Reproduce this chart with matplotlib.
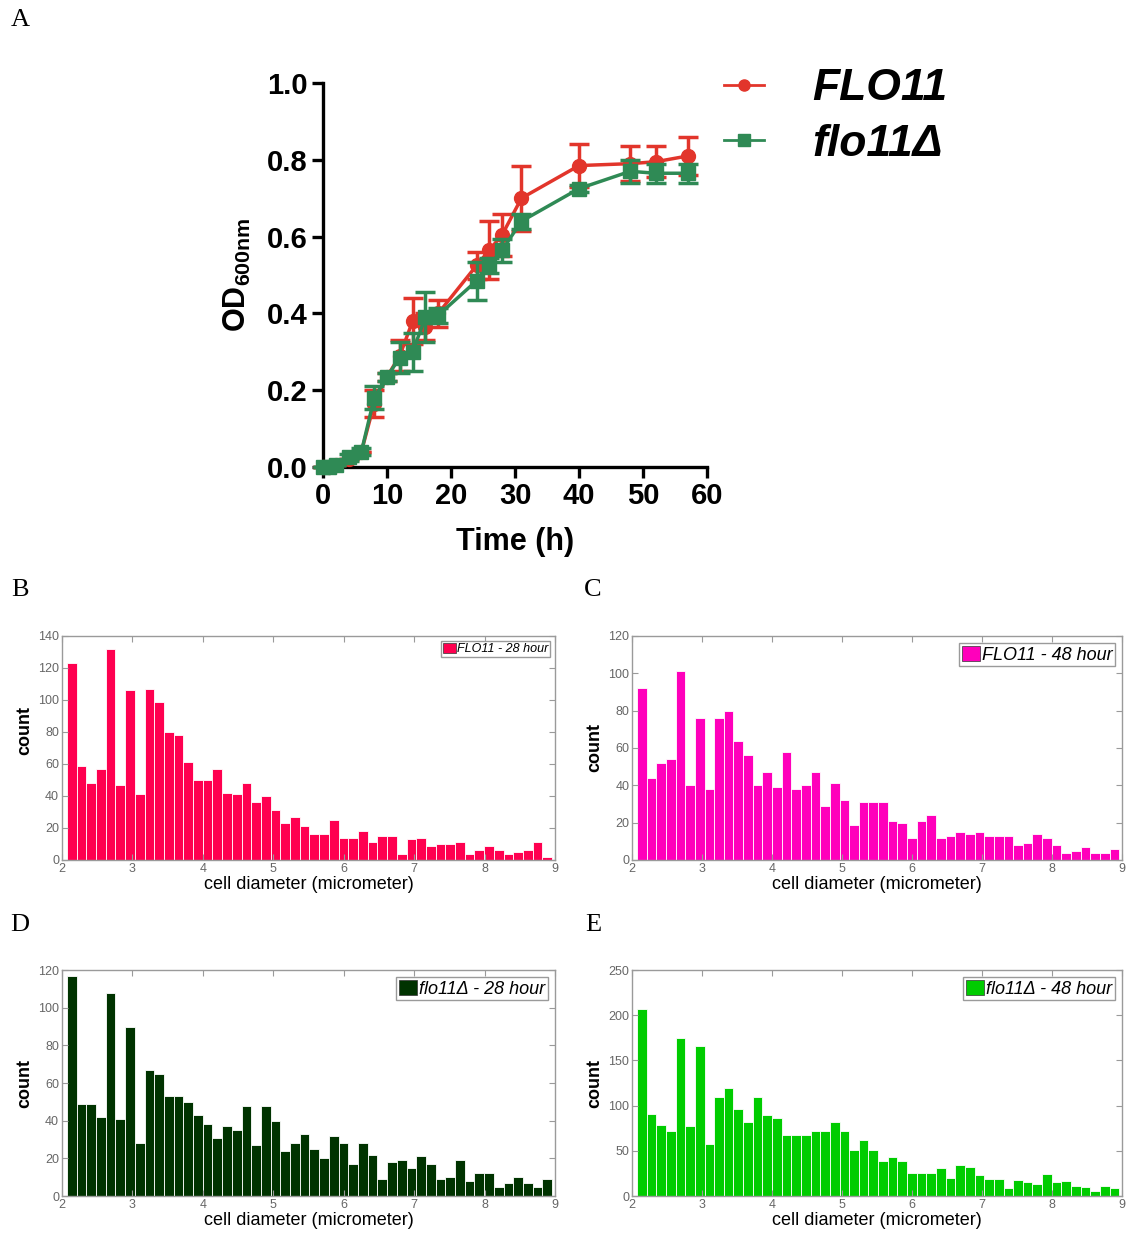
import numpy as np
import matplotlib
matplotlib.use("Agg")
import matplotlib.pyplot as plt
from matplotlib.lines import Line2D
from matplotlib.patches import Patch

plt.rcParams["font.family"] = ["Liberation Sans", "DejaVu Sans"]
plt.rcParams["mathtext.fontset"] = "custom"
plt.rcParams["mathtext.rm"] = "Liberation Sans:bold"

# Growth curve (panel A)
hours = [0, 1, 2, 4, 6, 8, 10, 12, 14, 16, 18, 24, 26, 28, 31, 40, 48, 52, 57]
od_wt = [0.0, 0.0, 0.005, 0.02, 0.04, 0.165, 0.235, 0.29, 0.38, 0.365, 0.40,
         0.525, 0.565, 0.605, 0.70, 0.785, 0.79, 0.795, 0.81]
od_wt_err = [0, 0, 0, 0, 0, 0.035, 0.01, 0.04, 0.06, 0.035, 0.035, 0.035,
             0.075, 0.055, 0.085, 0.055, 0.045, 0.04, 0.05]
od_mut = [0.0, 0.0, 0.005, 0.025, 0.04, 0.18, 0.235, 0.285, 0.30, 0.39, 0.395,
          0.485, 0.525, 0.565, 0.64, 0.725, 0.77, 0.765, 0.765]
od_mut_err = [0, 0, 0, 0.01, 0.01, 0.03, 0.01, 0.04, 0.05, 0.065, 0.02, 0.05,
              0.02, 0.03, 0.02, 0.01, 0.03, 0.025, 0.025]

# Cell diameter histograms (panels B-E), 50 bins
bin_edges = np.linspace(2.07, 8.96, 51)
wt_28h = [123, 59, 48, 57, 132, 47, 106, 41, 107, 99, 80, 78, 61, 50, 50, 57, 42,
          41, 48, 36, 40, 31, 23, 27, 21, 16, 16, 25, 14, 14, 18, 11, 15, 15, 4,
          13, 14, 9, 10, 10, 11, 4, 6, 9, 6, 4, 5, 6, 11, 2]
wt_48h = [92, 44, 52, 54, 101, 40, 76, 38, 76, 80, 64, 56, 40, 47, 39, 58, 38,
          40, 47, 29, 41, 32, 19, 31, 31, 31, 21, 20, 12, 21, 24, 12, 13, 15, 14,
          15, 13, 13, 13, 8, 9, 14, 12, 8, 4, 5, 7, 4, 4, 6]
mut_28h = [117, 49, 49, 42, 108, 41, 90, 28, 67, 65, 53, 53, 50, 43, 38, 31, 37,
           35, 48, 27, 48, 40, 24, 28, 33, 25, 20, 32, 28, 17, 28, 22, 9, 18, 19,
           15, 21, 17, 9, 10, 19, 8, 12, 12, 5, 7, 10, 7, 5, 9]
mut_48h = [207, 91, 78, 72, 175, 77, 166, 58, 110, 119, 96, 82, 110, 90, 86, 68,
           67, 67, 72, 72, 82, 72, 51, 62, 51, 39, 43, 39, 26, 25, 25, 31, 20, 34,
           32, 23, 19, 19, 9, 18, 16, 13, 24, 15, 17, 11, 10, 6, 11, 9]

fig = plt.figure(figsize=(11.43, 12.39), dpi=100)

# ---- panel A ----
red = "#e2352b"
green = "#2f8a55"
ax = fig.add_axes([0.2826, 0.6231, 0.336, 0.3099])
ax.errorbar(hours, od_wt, yerr=od_wt_err, fmt="-o", color=red, ms=10, lw=2.5,
            capsize=7, capthick=2.5, elinewidth=2.5, clip_on=False, zorder=3)
ax.errorbar(hours, od_mut, yerr=od_mut_err, fmt="-s", color=green, ms=10, lw=2.5,
            capsize=7, capthick=2.5, elinewidth=2.5, clip_on=False, zorder=4)
ax.set_xlim(0, 60)
ax.set_ylim(0, 1.0)
ax.set_xticks(range(0, 61, 10))
ax.set_yticks(np.arange(0, 1.01, 0.2))
ax.set_yticklabels([f"{v:.1f}" for v in np.arange(0, 1.01, 0.2)])
for s in ["top", "right"]:
    ax.spines[s].set_visible(False)
for s in ["left", "bottom"]:
    ax.spines[s].set_linewidth(2.4)
ax.tick_params(direction="out", length=8, width=2.4, labelsize=21, pad=3)
for lbl in ax.get_xticklabels() + ax.get_yticklabels():
    lbl.set_fontweight("bold")
ax.set_xlabel("Time (h)", fontsize=22, fontweight="bold", labelpad=12)
ax.set_ylabel(r"OD$_{\mathrm{600nm}}$", fontsize=22, fontweight="bold", labelpad=10)

handles = [Line2D([], [], color=red, marker="o", ms=8, lw=2),
           Line2D([], [], color=green, marker="s", ms=8, lw=2)]
leg = fig.legend(handles, ["FLO11", "flo11Δ"], loc="upper left",
                 bbox_to_anchor=(0.598, 0.977), frameon=False,
                 prop={"size": 32, "weight": "bold", "style": "italic"},
                 handlelength=0.9, handletextpad=1.1, labelspacing=0.32)

# ---- panels B-E ----
def draw_hist(rect, counts, color, label, ymax, ystep, legend_size, label_y=0.5):
    hx = fig.add_axes(rect)
    centers = (bin_edges[:-1] + bin_edges[1:]) / 2
    width = bin_edges[1] - bin_edges[0]
    hx.bar(centers, counts, width=width, color=color, edgecolor="white",
           linewidth=0.6, label=label)
    hx.set_xlim(2, 9)
    hx.set_ylim(0, ymax)
    hx.set_xticks(range(2, 10))
    hx.set_yticks(np.arange(0, ymax + 1, ystep))
    for s in hx.spines.values():
        s.set_color("#9a9a9a")
        s.set_linewidth(1.0)
    hx.tick_params(direction="in", length=4, width=0.8, color="#9a9a9a",
                   labelsize=9, labelcolor="#666666", top=True, right=True, pad=2)
    hx.set_xlabel("cell diameter (micrometer)", fontsize=13, labelpad=1)
    hx.set_ylabel("count", fontsize=13, fontweight="bold", labelpad=6)
    hx.yaxis.set_label_coords(-0.059, label_y)
    hx.legend(handles=[Patch(facecolor=color, edgecolor="#333333", linewidth=0.5)],
              labels=[label], loc="upper right", fancybox=False,
              edgecolor="#9a9a9a", framealpha=1,
              prop={"size": legend_size, "style": "italic"},
              handlelength=1.0, handleheight=0.9, handletextpad=0.1,
              borderpad=0.15, borderaxespad=0.4)
    return hx

draw_hist([0.0542, 0.3059, 0.4313, 0.1808], wt_28h, "#ff0050",
          "FLO11 - 28 hour", 140, 20, 9, label_y=0.58)
draw_hist([0.553, 0.3059, 0.4287, 0.1808], wt_48h, "#ff00bb",
          "FLO11 - 48 hour", 120, 20, 13)
draw_hist([0.0542, 0.0347, 0.4313, 0.1824], mut_28h, "#003300",
          "flo11Δ - 28 hour", 120, 20, 13)
draw_hist([0.553, 0.0347, 0.4287, 0.1824], mut_48h, "#00cc00",
          "flo11Δ - 48 hour", 250, 50, 13)

# panel letters
for letter, x, y in [("A", 20, 20), ("B", 20, 590), ("C", 593, 590),
                     ("D", 20, 925), ("E", 593, 925)]:
    fig.text(x / 1143, 1 - y / 1239, letter, fontsize=19, ha="center", va="center",
             family=["Liberation Serif", "DejaVu Serif"])

fig.savefig("out.png", dpi=100)
